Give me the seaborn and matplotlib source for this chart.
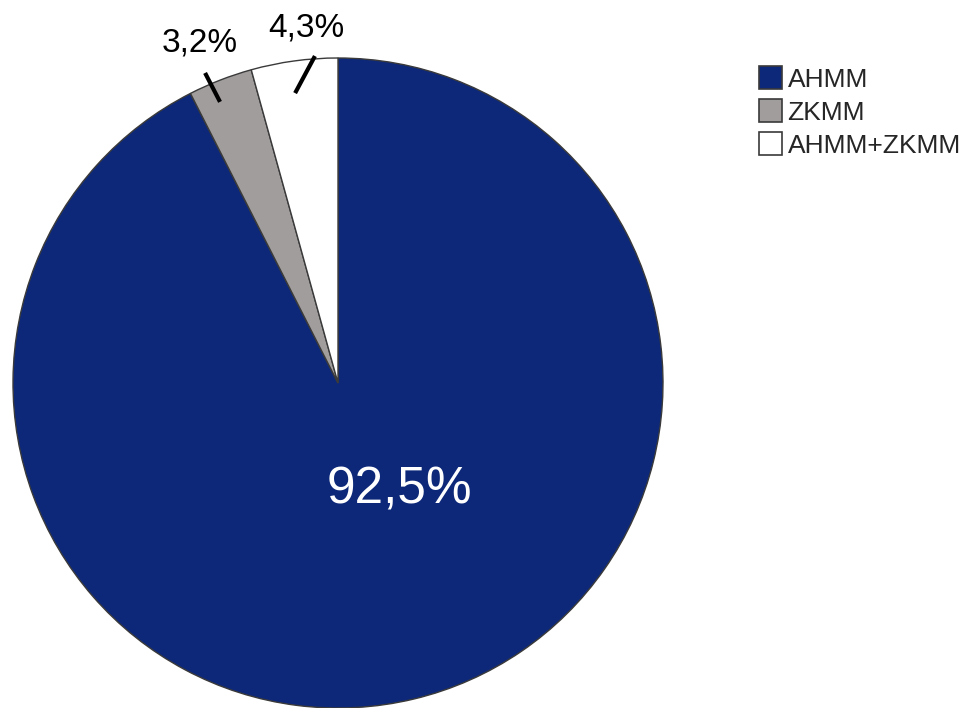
import numpy as np
import matplotlib
matplotlib.use("Agg")
import matplotlib.pyplot as plt
from matplotlib.patches import Patch
import seaborn as sns

categories = ["AHMM", "ZKMM", "AHMM+ZKMM"]
shares = [92.5, 3.2, 4.3]
share_labels = ["92,5%", "3,2%", "4,3%"]
colors = ["#0d2878", "#a29d9d", "#ffffff"]

sns.set_theme(style="white")
plt.rcParams["font.family"] = ["Liberation Sans", "DejaVu Sans"]

fig = plt.figure(figsize=(9.61, 7.08), dpi=100)
ax = fig.add_axes([13 / 961, 0 / 708, 650 / 961, 650 / 708])

wedges, _ = ax.pie(
    shares,
    colors=colors,
    startangle=90,
    counterclock=False,
    radius=1.0,
    wedgeprops=dict(edgecolor="#3a3a3a", linewidth=1.0),
)
ax.set_xlim(-1.0, 1.0)
ax.set_ylim(-1.0, 1.0)
ax.set_aspect("equal")
ax.axis("off")

# large slice: label inside, in white
ax.text(0.19, -0.33, share_labels[0], color="white", fontsize=37,
        ha="center", va="center")

# small slices: short leader tick across the rim and label above it
ticks = {1: ((-0.409, 0.954), (-0.363, 0.865)),
         2: ((-0.071, 1.006), (-0.132, 0.892))}
label_xy = {1: (-0.426, 1.045), 2: (-0.098, 1.092)}
for i in (1, 2):
    (x0, y0), (x1, y1) = ticks[i]
    ax.plot([x0, x1], [y0, y1], color="black", linewidth=3,
            solid_capstyle="butt", clip_on=False)
    lx, ly = label_xy[i]
    ax.text(lx, ly, share_labels[i], fontsize=24, ha="center", va="center",
            color="black", clip_on=False)

handles = [Patch(facecolor=c, edgecolor="#3a3a3a", linewidth=1.2) for c in colors]
fig.legend(
    handles, categories,
    loc="upper left",
    bbox_to_anchor=(759 / 961, 1 - 66 / 708),
    frameon=False,
    fontsize=19,
    handlelength=0.88,
    handleheight=0.98,
    handletextpad=0.2,
    labelspacing=0.28,
    borderpad=0,
    borderaxespad=0,
)

fig.savefig("out.png", dpi=100, facecolor="white")
